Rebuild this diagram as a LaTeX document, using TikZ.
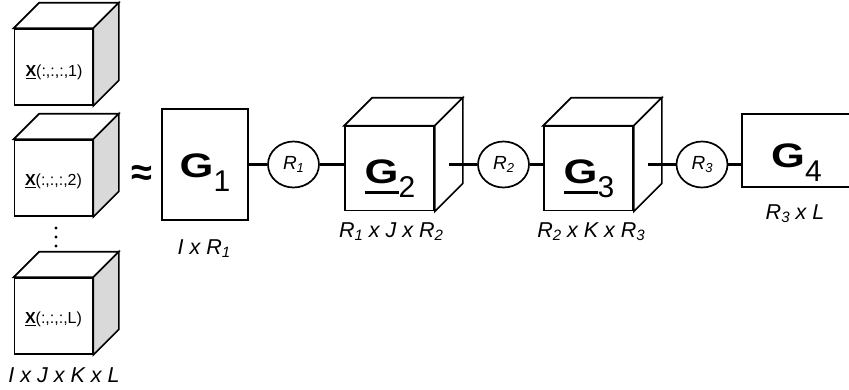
\documentclass[tikz,border=0pt]{standalone}
\usepackage{graphicx}
\usepackage{fontspec}
\setmainfont{Liberation Sans}
\usetikzlibrary{shapes.geometric,calc}

% font size helper (size = baselineskip)
\newcommand\fsz[1]{\fontsize{#1}{#1}\selectfont}
% lowered index: drop, size, text
\newcommand\lowsub[3]{\raisebox{-#1pt}{\fsz{#2}#3}}
% thick underline: depth of rule bottom, rule thickness, text
\newcommand\thickul[3]{\setbox0\hbox{#3}\rlap{\rule[-#1pt]{\wd0}{#2pt}}\box0}
% broad bold G used for the cores
\newcommand\wideG{\scalebox{1.28}[1]{\fsz{34}\bfseries G}}
% factor labels
\newcommand\coreG[1]{\wideG\lowsub{14}{30}{#1}}
\newcommand\coreGul[1]{\thickul{10.5}{2.6}{\wideG}\lowsub{14}{30}{#1}}
% slice labels
\newcommand\slice[1]{\thickul{3}{1.5}{\textbf{X}}(:,:,:,#1)}

% top and side faces of a cube whose front face is node #1
\newcommand\cubefaces[3]{%
  \draw[cubeface, fill=white] (#1.north west) -- ++(#2,-#2)
     -- ($(#1.north east)+(#2,-#2)$) -- (#1.north east) -- cycle;
  \draw[cubeface, fill=#3] (#1.north east) -- ++(#2,-#2)
     -- ($(#1.south east)+(#2,-#2)$) -- (#1.south east) -- cycle;}

\tikzset{
  link/.style={line width=2.4pt},
  cubeface/.style={draw, line width=1.7pt, line join=miter},
  xfront/.style={cubeface, fill=white, minimum width=78pt, minimum height=76pt, inner sep=0pt},
  gfront/.style={cubeface, fill=white, minimum width=89pt, minimum height=84pt, inner sep=0pt},
  matbox/.style={cubeface, fill=white, inner sep=0pt},
  rank/.style={ellipse, draw, line width=1.7pt, fill=white, minimum width=51pt,
               minimum height=46pt, inner sep=0pt, font=\fsz{19}\itshape},
  dimlabel/.style={anchor=base, inner sep=0pt, font=\fsz{21.5}\itshape},
  slicelabel/.style={anchor=base, inner sep=0pt, font=\fsz{16}},
  corelabel/.style={anchor=base, inner sep=0pt},
}

\begin{document}
\begin{tikzpicture}[x=1pt, y=-1pt]
  \clip (0,0) rectangle (849,389);

  % ---- frontal slices of the data tensor ----
  \node[xfront] (x1) at (53.5,67) {};
  \cubefaces{x1}{25.5}{black!15}
  \node[slicelabel] (x1lbl) at (54,76) {\slice{1}};

  \node[xfront] (x2) at (53.5,178) {};
  \cubefaces{x2}{25.5}{black!15}
  \node[slicelabel] (x2lbl) at (53.5,185) {\slice{2}};

  \node[xfront] (xl) at (53.5,316) {};
  \cubefaces{xl}{25.5}{black!15}
  \node[slicelabel] (xllbl) at (53.5,323) {\slice{L}};

  \foreach \yy in {228,237,246} \fill (56,\yy) circle[radius=1.6pt];

  \node[dimlabel] (xdim) at (64,382) {I x J x K x L};

  % ---- approximation sign ----
  \node[corelabel] (approx) at (142,185) {\fsz{38}\bfseries ≈};

  % ---- tensor train cores ----
  \node[matbox, minimum width=86pt, minimum height=111pt] (g1) at (205,164.5) {};
  \node[corelabel] (g1lbl) at (205,177) {\coreG{1}};
  \node[dimlabel] (g1dim) at (204,254) {I x R\lowsub{3.5}{15}{1}};

  \node[rank] (r1) at (293.5,164.5) {R\lowsub{3}{13}{1}};

  \node[gfront] (g2) at (389.5,168.5) {};
  \cubefaces{g2}{28}{white}
  \node[corelabel] (g2lbl) at (390,183) {\coreGul{2}};
  \node[dimlabel] (g2dim) at (391,237) {R\lowsub{3.5}{15}{1} x J x R\lowsub{3.5}{15}{2}};

  \node[rank] (r2) at (503.5,164.5) {R\lowsub{3}{13}{2}};

  \node[gfront] (g3) at (588.5,168.5) {};
  \cubefaces{g3}{28}{white}
  \node[corelabel] (g3lbl) at (589,183) {\coreGul{3}};
  \node[dimlabel] (g3dim) at (591,237) {R\lowsub{3.5}{15}{2} x K x R\lowsub{3.5}{15}{3}};

  \node[rank] (r3) at (702,164.5) {R\lowsub{3}{13}{3}};

  \node[matbox, minimum width=112pt, minimum height=73pt] (g4) at (798,150.5) {};
  \node[corelabel] (g4lbl) at (796.5,167) {\coreG{4}};
  \node[dimlabel] (g4dim) at (795,219) {R\lowsub{3.5}{15}{3} x L};

  % ---- connections between cores ----
  \coordinate (g2port) at ($(g2.east |- r2)+(14,0)$);
  \coordinate (g3port) at ($(g3.east |- r3)+(14,0)$);
  \draw[link] (g1) -- (r1);
  \draw[link] (r1) -- (r1 -| g2.west);
  \draw[link] (g2port) -- (r2);
  \draw[link] (r2) -- (r2 -| g3.west);
  \draw[link] (g3port) -- (r3);
  \draw[link] (r3) -- (r3 -| g4.west);
\end{tikzpicture}
\end{document}
